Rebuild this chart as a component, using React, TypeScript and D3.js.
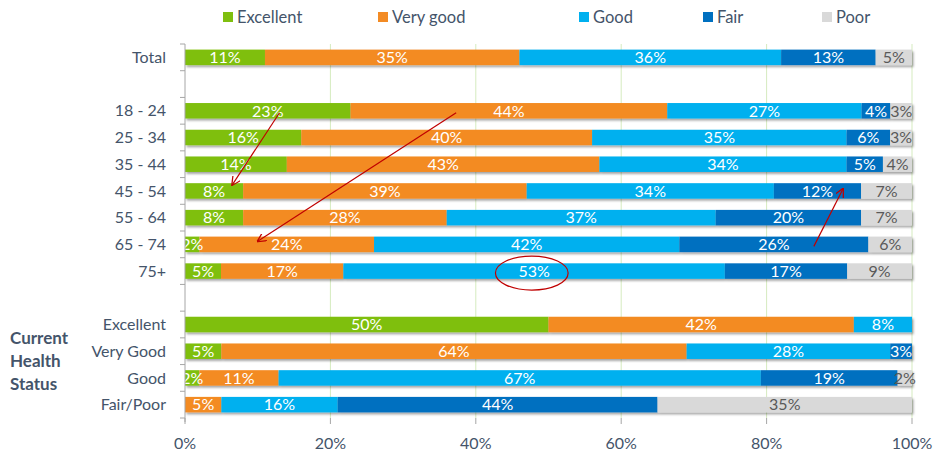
import React from "react";
import * as d3 from "d3";

const slots = ["Total", "gap1", "18 - 24", "25 - 34", "35 - 44", "45 - 54", "55 - 64", "65 - 74", "75+", "gap2", "Excellent", "Very Good", "Good", "Fair/Poor"];
const rowLabels = ["Total", "18 - 24", "25 - 34", "35 - 44", "45 - 54", "55 - 64", "65 - 74", "75+", "Excellent", "Very Good", "Good", "Fair/Poor"];
const seriesNames = ["Excellent", "Very good", "Good", "Fair", "Poor"];
const excellent = [11, 23, 16, 14, 8, 8, 2, 5, 50, 5, 2, 0];
const veryGood = [35, 44, 40, 43, 39, 28, 24, 17, 42, 64, 11, 5];
const good = [36, 27, 35, 34, 34, 37, 42, 53, 8, 28, 67, 16];
const fair = [13, 4, 6, 5, 12, 20, 26, 17, 0, 3, 19, 44];
const poor = [5, 3, 3, 4, 7, 7, 6, 9, 0, 0, 2, 35];
const xTicks = [0, 20, 40, 60, 80, 100];
const groupTitle = ["Current", "Health", "Status"];

const colors = ["#7fbf0f", "#f38b24", "#00b0ef", "#0070c0", "#d9d9d9"];
const labelColors = ["#ffffff", "#ffffff", "#ffffff", "#ffffff", "#595959"];
const FONT = "Lato, 'Open Sans', sans-serif";
const TEXT = "#44546a";

export default function App() {
  const W = 935, H = 453;
  const x = d3.scaleLinear().domain([0, 1]).range([185, 912]);
  const xPct = d3.scaleLinear().domain([0, 100]).range([185, 912]);
  const y = d3.scaleBand().domain(slots).range([44, 418]).paddingInner(0.42).paddingOuter(0.21);
  const step = y.step();

  const table = rowLabels.map((r, i) => ({
    row: r,
    Excellent: excellent[i],
    "Very good": veryGood[i],
    Good: good[i],
    Fair: fair[i],
    Poor: poor[i],
  }));
  const stack = d3.stack<any>().keys(seriesNames).offset(d3.stackOffsetExpand);
  const layers = stack(table);

  const center = (s: string) => (y(s) as number) + y.bandwidth() / 2;

  const boundaries = slots.map((s) => (y(s) as number) - (step - y.bandwidth()) / 2);
  boundaries.push(boundaries[boundaries.length - 1] + step);

  const arrows = [
    { x1: 13, r1: "18 - 24", d1: 2, x2: 6.5, r2: "45 - 54", d2: -6 },
    { x1: 37.3, r1: "18 - 24", d1: 2, x2: 10, r2: "65 - 74", d2: -3 },
    { x1: 86.5, r1: "65 - 74", d1: 2, x2: 90.5, r2: "45 - 54", d2: -2 },
  ];
  const ellipse = { cx: 47.7, row: "75+", dy: 2, rx: 5, ry: 17 };

  const legendX = [223, 378, 579, 703, 822];

  return (
    <svg width={W} height={H} style={{ position: "absolute", left: 0, top: 0, background: "#fff" }} fontFamily={FONT}>
      <defs>
        <filter id="shadow" x="-5%" y="-50%" width="110%" height="200%">
          <feDropShadow dx="1.5" dy="2" stdDeviation="1" floodColor="#000" floodOpacity="0.35" />
        </filter>
        <marker id="arrow" viewBox="0 0 10 10" refX="9" refY="5" markerWidth="9" markerHeight="9" orient="auto-start-reverse" markerUnits="userSpaceOnUse">
          <path d="M0,0 L10,5 L0,10" fill="none" stroke="#c00000" strokeWidth="1.4" />
        </marker>
      </defs>

      {seriesNames.map((n, i) => (
        <g key={n}>
          <rect x={legendX[i]} y={12} width={10} height={10} fill={colors[i]} />
          <text x={legendX[i] + 14} y={17} dy="0.35em" fontSize={16.5} fill={TEXT}>{n}</text>
        </g>
      ))}

      {xTicks.filter((t) => t > 0).map((t) => (
        <line key={t} x1={xPct(t)} x2={xPct(t)} y1={44} y2={418} stroke="#d5ebbf" strokeWidth={1} />
      ))}
      {xTicks.map((t) => (
        <g key={"t" + t}>
          <line x1={xPct(t)} x2={xPct(t)} y1={418} y2={424} stroke="#a6a6a6" />
          <text x={xPct(t)} y={443} dy="0.35em" textAnchor="middle" fontSize={16} fill={TEXT}>{t + "%"}</text>
        </g>
      ))}

      {rowLabels.map((r, i) => (
        <g key={r} filter="url(#shadow)">
          {layers.map((layer, k) => {
            const d = layer[i];
            if (d[1] - d[0] <= 0) return null;
            return (
              <rect key={k} x={x(d[0])} y={y(r)} width={x(d[1]) - x(d[0])} height={y.bandwidth()} fill={colors[k]} />
            );
          })}
        </g>
      ))}
      {rowLabels.map((r, i) => (
        <g key={"l" + r}>
          {layers.map((layer, k) => {
            const d = layer[i];
            const v = (layer[i].data as any)[seriesNames[k]];
            if (!v) return null;
            return (
              <text key={k} x={x((d[0] + d[1]) / 2)} y={center(r)} dy="0.36em" textAnchor="middle" fontSize={16} fill={labelColors[k]}>
                {v + "%"}
              </text>
            );
          })}
        </g>
      ))}

      <line x1={185} x2={185} y1={boundaries[0]} y2={boundaries[boundaries.length - 1] + 4} stroke="#a6a6a6" />
      {boundaries.map((b, i) => (
        <line key={i} x1={180} x2={185} y1={b} y2={b} stroke="#a6a6a6" />
      ))}
      {rowLabels.map((r) => (
        <text key={"y" + r} x={166} y={center(r)} dy="0.35em" textAnchor="end" fontSize={16} fill={TEXT}>{r}</text>
      ))}
      {groupTitle.map((t, i) => (
        <text key={t} x={10} y={center("Very Good") - 13 + i * 23} dy="0.35em" fontSize={17} fontWeight="bold" fill={TEXT}>{t}</text>
      ))}

      {arrows.map((a, i) => (
        <line key={i} x1={xPct(a.x1)} y1={center(a.r1) + a.d1} x2={xPct(a.x2)} y2={center(a.r2) + a.d2} stroke="#c00000" strokeWidth={1.2} markerEnd="url(#arrow)" />
      ))}
      <ellipse cx={xPct(ellipse.cx)} cy={center(ellipse.row) + ellipse.dy} rx={xPct(ellipse.rx) - xPct(0)} ry={ellipse.ry} fill="none" stroke="#c00000" strokeWidth={1.2} />
    </svg>
  );
}
